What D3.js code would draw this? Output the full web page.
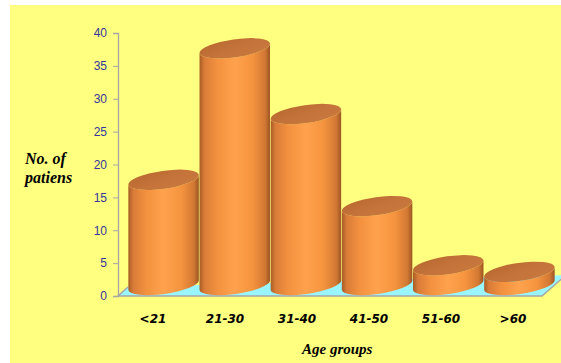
<!DOCTYPE html>
<html><head><meta charset="utf-8">
<script src="https://cdn.jsdelivr.net/npm/d3@7"></script>
<style>html,body{margin:0;padding:0;background:#fff;}svg{display:block;}</style>
</head><body>
<script>
const categories = ["<21", "21-30", "31-40", "41-50", "51-60", ">60"];
const patients = [16, 36, 26, 12, 3, 2];
const yTicks = [0, 5, 10, 15, 20, 25, 30, 35, 40];
const yTitle = ["No. of", "patiens"];
const xTitle = "Age groups";

const W = 561, H = 363;
const svg = d3.select("body").append("svg").attr("width", W).attr("height", H);

const defs = svg.append("defs");
const grad = defs.append("linearGradient").attr("id", "cyl").attr("x1", 0).attr("x2", 1).attr("y1", 0).attr("y2", 0);
[[0, "#a85c26"], [0.07, "#d97c38"], [0.25, "#f2913f"], [0.5, "#ffa24d"], [0.75, "#f5943f"], [0.93, "#d27834"], [1, "#9c5522"]]
  .forEach(([o, c]) => grad.append("stop").attr("offset", o).attr("stop-color", c));
const tgrad = defs.append("linearGradient").attr("id", "top").attr("x1", 0).attr("x2", 1).attr("y1", 0).attr("y2", 1);
[[0, "#b8692f"], [0.5, "#c4733a"], [1, "#c97a3e"]].forEach(([o, c]) => tgrad.append("stop").attr("offset", o).attr("stop-color", c));

// background panel
svg.append("rect").attr("x", 10).attr("y", 5).attr("width", W - 10).attr("height", H - 5).attr("fill", "#ffff80");

const y = d3.scaleLinear().domain([0, 40]).range([296, 33]);
const xBar = d3.scaleBand().domain(categories).range([128, 555]);
const xLab = d3.scaleBand().domain(categories).range([117, 549]);
const axisX = 118;
const lift = 11;          // depth offset of the bar base centre from the front edge
const tilt = -8;          // ellipse rotation (degrees)
const ry = 9;

// floor
const x0 = axisX, x1 = 542, y0 = y(0);
svg.append("polygon")
  .attr("points", [[x0, y0], [x1, y0], [x1 + 24, y0 - 21], [x0 + 10, y0 - 9]].map(p => p.join(",")).join(" "))
  .attr("fill", "#99f5ff");
svg.append("polyline")
  .attr("points", [[x0 + 10, y0 - 9], [x0, y0], [x1, y0], [x1 + 24, y0 - 21]].map(p => p.join(",")).join(" "))
  .attr("fill", "none").attr("stroke", "#a6a6a6").attr("stroke-width", 1.5);

// y axis
const yAxis = d3.axisLeft(y).tickValues(yTicks).tickSize(5).tickPadding(6);
const gy = svg.append("g").attr("transform", `translate(${axisX},0)`).call(yAxis);
gy.select(".domain").attr("stroke", "#a6a6a6").attr("stroke-width", 1.3);
gy.selectAll(".tick line").attr("stroke", "#a6a6a6");
gy.selectAll(".tick text").attr("fill", "#35359a").style("font-family", "'Liberation Sans', Arial, sans-serif").style("font-size", "12px");

// cylinders
const rad = tilt * Math.PI / 180;
const bars = svg.append("g");
categories.forEach((c, i) => {
  const rx = xBar.bandwidth() / 2;
  const cx = xBar(c) + rx;
  const cb = y(0) - lift;
  const ct = y(patients[i]) - lift;
  const dx = rx * Math.cos(rad), dy = rx * Math.sin(rad);
  const L = (cy) => [cx - dx, cy - dy];
  const R = (cy) => [cx + dx, cy + dy];
  const [ltx, lty] = L(ct), [rtx, rty] = R(ct), [lbx, lby] = L(cb), [rbx, rby] = R(cb);
  const body = `M${ltx},${lty} L${lbx},${lby} A${rx},${ry} ${tilt} 0 0 ${rbx},${rby} L${rtx},${rty} A${rx},${ry} ${tilt} 0 1 ${ltx},${lty} Z`;
  bars.append("path").attr("d", body).attr("fill", "url(#cyl)");
  bars.append("ellipse").attr("cx", cx).attr("cy", ct).attr("rx", rx).attr("ry", ry)
    .attr("transform", `rotate(${tilt},${cx},${ct})`).attr("fill", "url(#top)");
});

// category labels
svg.append("g").selectAll("text").data(categories).join("text")
  .attr("x", d => xLab(d) + xLab.bandwidth() / 2).attr("y", 323)
  .attr("text-anchor", "middle")
  .style("font-family", "'DejaVu Sans', Verdana, sans-serif").style("font-size", "12px")
  .style("font-weight", "bold").style("font-style", "italic").attr("fill", "#000")
  .text(d => d);

// titles
const serif = "'Liberation Serif', 'Times New Roman', serif";
svg.append("g").selectAll("text").data(yTitle).join("text")
  .attr("x", 25).attr("y", (d, i) => 164 + i * 19)
  .style("font-family", serif).style("font-size", "16px").style("font-weight", "bold").style("font-style", "italic")
  .text(d => d);
svg.append("text").attr("x", 302).attr("y", 354)
  .style("font-family", serif).style("font-size", "15px").style("font-weight", "bold").style("font-style", "italic")
  .text(xTitle);
</script>
</body></html>
